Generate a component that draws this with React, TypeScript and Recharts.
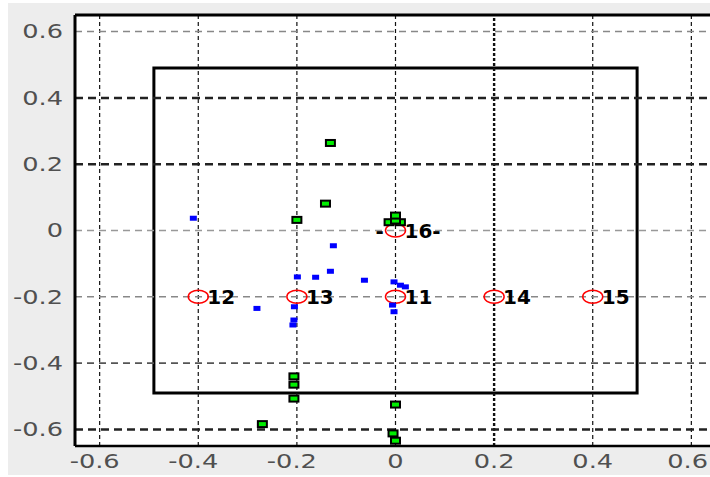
import React from 'react';
import { ScatterChart, Scatter, XAxis, YAxis, ReferenceLine, ReferenceArea, CartesianGrid } from 'recharts';

const axisTicks = [-0.6, -0.4, -0.2, 0, 0.2, 0.4, 0.6];

const targetX = [-0.4, -0.2, 0, 0.2, 0.4, 0];
const targetY = [-0.2, -0.2, -0.2, -0.2, -0.2, 0];
const targetPrefix = ['', '', '', '', '', '-'];
const targetLabel = ['12', '13', '11', '14', '15', '16-'];

const blueX = [-0.41, -0.199, -0.162, -0.132, -0.126, -0.063, -0.281, -0.205, -0.206, -0.208, -0.003, 0.01, 0.02, -0.006, -0.003];
const blueY = [0.037, -0.14, -0.141, -0.123, -0.046, -0.15, -0.235, -0.23, -0.27, -0.285, -0.155, -0.165, -0.17, -0.225, -0.245];

const greenX = [-0.132, -0.142, -0.2, -0.013, 0.01, 0.0, 0.0, -0.206, -0.206, -0.206, -0.27, 0.0, -0.005, 0.0];
const greenY = [0.264, 0.081, 0.032, 0.025, 0.025, 0.03, 0.045, -0.44, -0.465, -0.507, -0.584, -0.525, -0.612, -0.634];

const boxHalf = 0.49;

const targets = targetX.map((x, i) => ({ x, y: targetY[i], prefix: targetPrefix[i], label: targetLabel[i] }));
const blues = blueX.map((x, i) => ({ x, y: blueY[i] }));
const greens = greenX.map((x, i) => ({ x, y: greenY[i] }));

const fmt = (v: number) => (v === 0 ? '0' : v.toFixed(1));

const XTick = (props: any) => {
  const { x, y, payload } = props;
  const v = payload.value;
  const last = v >= 0.6;
  return (
    <text
      transform={`translate(${last ? 708 : x + (v < 0 ? -5 : 0)},${y}) scale(1.35,1)`}
      textAnchor={last ? 'end' : 'middle'}
      dy="0.71em"
      fontSize={19}
      fill="#505050"
      fontFamily="DejaVu Sans"
    >
      {fmt(v)}
    </text>
  );
};

const YTick = (props: any) => {
  const { x, y, payload } = props;
  const v = payload.value;
  return (
    <text
      transform={`translate(${x},${y}) scale(1.35,1)`}
      textAnchor="end"
      dy="0.355em"
      fontSize={19}
      fill="#505050"
      fontFamily="DejaVu Sans"
    >
      {fmt(v)}
    </text>
  );
};

const TargetShape = (p: any) => {
  const { cx, cy, payload } = p;
  return (
    <g>
      <ellipse cx={cx} cy={cy} rx={10} ry={6.5} fill="none" stroke="#ff0000" strokeWidth={1.5} />
      {payload.prefix ? (
        <text x={cx - 20} y={cy} dy="0.35em" fontSize={20} fontWeight="bold" fontFamily="DejaVu Sans" fill="#000">
          {payload.prefix}
        </text>
      ) : null}
      <text x={cx + 9} y={cy} dy="0.35em" fontSize={20} fontWeight="bold" fontFamily="DejaVu Sans" fill="#000">
        {payload.label}
      </text>
    </g>
  );
};

const BlueShape = (p: any) => <rect x={p.cx - 3.5} y={p.cy - 2.5} width={7} height={5} fill="#0000ff" />;

const GreenShape = (p: any) => (
  <rect x={p.cx - 4.5} y={p.cy - 3} width={9} height={6} fill="#00ee00" stroke="#000" strokeWidth={2} />
);

const vLines = [
  { v: -0.6, w: 1.2, d: '4 3', c: '#111' },
  { v: -0.4, w: 1.2, d: '4 3', c: '#111' },
  { v: -0.2, w: 1.2, d: '4 3', c: '#111' },
  { v: 0, w: 1.2, d: '4 3', c: '#111' },
  { v: 0.2, w: 2.4, d: '3 2', c: '#111' },
  { v: 0.4, w: 1.2, d: '4 3', c: '#111' },
  { v: 0.6, w: 1.2, d: '4 3', c: '#111' },
];

const hLines = [
  { v: 0.6, w: 1.5, d: '7 5', c: '#888' },
  { v: 0.4, w: 2.5, d: '8 5', c: '#222' },
  { v: 0.2, w: 2.5, d: '8 5', c: '#222' },
  { v: 0, w: 1.5, d: '7 5', c: '#999' },
  { v: -0.2, w: 1.5, d: '7 5', c: '#888' },
  { v: -0.4, w: 1.8, d: '7 5', c: '#555' },
  { v: -0.6, w: 2.5, d: '8 5', c: '#222' },
];

export default function App() {
  return (
    <div style={{ position: 'absolute', left: 0, top: 0, width: 710, height: 477, overflow: 'hidden', background: '#fff' }}>
      <div style={{ position: 'absolute', left: 8, top: 3, width: 702, height: 472, background: '#ededed' }} />
      <div style={{ position: 'absolute', left: 0, top: 0 }}>
        <ScatterChart width={730} height={477} margin={{ top: 15, right: 14, bottom: 0, left: 0 }}>
          <CartesianGrid fill="#fff" horizontal={false} vertical={false} />
          <XAxis
            type="number"
            dataKey="x"
            domain={[-0.65, 0.65]}
            ticks={axisTicks}
            allowDataOverflow
            height={31}
            tickLine={false}
            tickSize={0}
            tickMargin={9}
            axisLine={{ stroke: '#000', strokeWidth: 2.5 }}
            tick={<XTick />}
          />
          <YAxis
            type="number"
            dataKey="y"
            domain={[-0.65, 0.65]}
            ticks={axisTicks}
            allowDataOverflow
            width={75}
            tickLine={false}
            tickSize={0}
            tickMargin={12}
            axisLine={{ stroke: '#000', strokeWidth: 3 }}
            tick={<YTick />}
          />
          {vLines.map((l) => (
            <ReferenceLine key={'v' + l.v} x={l.v} stroke={l.c} strokeWidth={l.w} strokeDasharray={l.d} />
          ))}
          {hLines.map((l) => (
            <ReferenceLine key={'h' + l.v} y={l.v} stroke={l.c} strokeWidth={l.w} strokeDasharray={l.d} />
          ))}
          <ReferenceLine y={0.65} stroke="#000" strokeWidth={3} />
          <ReferenceArea
            x1={-boxHalf}
            x2={boxHalf}
            y1={-boxHalf}
            y2={boxHalf}
            fill="none"
            fillOpacity={0}
            stroke="#000"
            strokeWidth={3}
          />
          <Scatter data={targets} shape={<TargetShape />} isAnimationActive={false} />
          <Scatter data={blues} shape={<BlueShape />} isAnimationActive={false} />
          <Scatter data={greens} shape={<GreenShape />} isAnimationActive={false} />
        </ScatterChart>
      </div>
    </div>
  );
}
